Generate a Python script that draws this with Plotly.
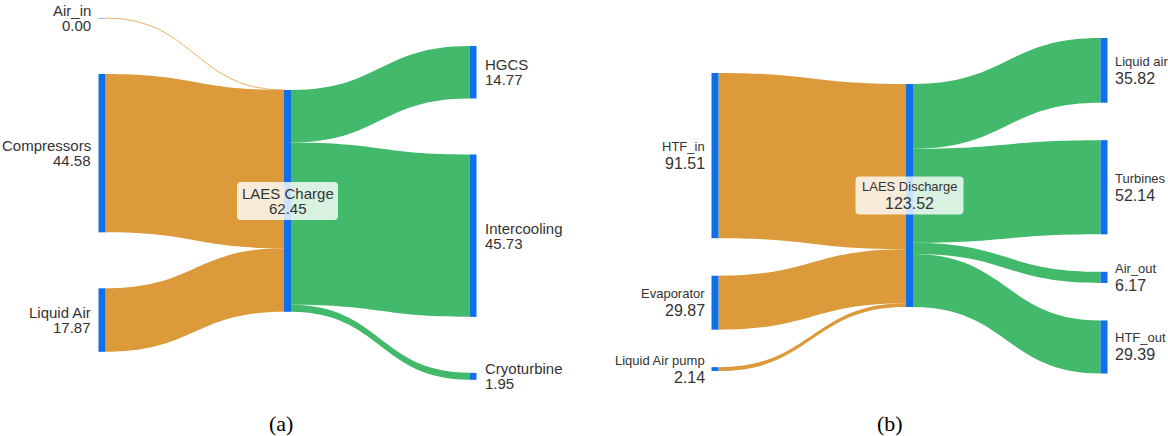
import plotly.graph_objects as go

FIG_W, FIG_H = 1168, 436

# ---- panel (a): LAES charge ----
a_sources = ["Air_in", "Compressors", "Liquid Air"]
a_source_values = [0.001, 44.58, 17.87]
a_hub = "LAES Charge"
a_sinks = ["HGCS", "Intercooling", "Cryoturbine"]
a_sink_values = [14.77, 45.73, 1.95]

# ---- panel (b): LAES discharge ----
b_sources = ["HTF_in", "Evaporator", "Liquid Air pump"]
b_source_values = [91.51, 29.87, 2.14]
b_hub = "LAES Discharge"
b_sinks = ["Liquid air", "Turbines", "Air_out", "HTF_out"]
b_sink_values = [35.82, 52.14, 6.17, 29.39]

panel_tags = ["(a)", "(b)"]

ORANGE = "rgb(221,154,58)"
ORANGE_FAINT = "rgba(221,154,58,0.45)"
GREEN = "rgb(67,185,108)"
GREEN_FAINT = "rgba(67,185,108,0.45)"
BLUE = "rgb(16,112,234)"
TEXT = "#333333"
FONT = "Liberation Sans, Arial, sans-serif"

fig = go.Figure()
annotations = []
shapes = []


def px_x(x):
    return x / FIG_W


def px_y(y):
    return 1 - y / FIG_H


def rounded_rect(cx, cy, w, h, r):
    x0, x1 = cx - w / 2, cx + w / 2
    y0, y1 = cy - h / 2, cy + h / 2
    pts = [
        f"M {px_x(x0 + r)} {px_y(y0)}",
        f"L {px_x(x1 - r)} {px_y(y0)}",
        f"Q {px_x(x1)} {px_y(y0)} {px_x(x1)} {px_y(y0 + r)}",
        f"L {px_x(x1)} {px_y(y1 - r)}",
        f"Q {px_x(x1)} {px_y(y1)} {px_x(x1 - r)} {px_y(y1)}",
        f"L {px_x(x0 + r)} {px_y(y1)}",
        f"Q {px_x(x0)} {px_y(y1)} {px_x(x0)} {px_y(y1 - r)}",
        f"L {px_x(x0)} {px_y(y0 + r)}",
        f"Q {px_x(x0)} {px_y(y0)} {px_x(x0 + r)} {px_y(y0)}",
        "Z",
    ]
    return " ".join(pts)


def add_panel(sources, src_vals, hub, sinks, sink_vals, dom_x, dom_y, pad,
              col_tops, gap, thick, name_size, value_size, name_dy, value_dy,
              label_gap, box_w, box_h):
    x0, x1 = dom_x
    y0, y1 = dom_y
    W, H = x1 - x0, y1 - y0
    hub_val = sum(src_vals)
    columns = [list(src_vals), [hub_val], list(sink_vals)]
    # same vertical scale as the sankey layout engine
    ky = min((H - (len(c) - 1) * pad) / sum(c) for c in columns)

    col_x = [thick / 2, W / 2, W - thick / 2]
    centers = []
    for ci, col in enumerate(columns):
        top = col_tops[ci]
        cs = []
        for v in col:
            h = v * ky
            cs.append(top + h / 2)
            top += h + gap
        centers.append(cs)

    labels = list(sources) + [hub] + list(sinks)
    node_x = [col_x[0] / W] * len(sources) + [col_x[1] / W] + [col_x[2] / W] * len(sinks)
    node_y = [c / H for c in centers[0] + centers[1] + centers[2]]

    # hairline links (under one pixel wide) are drawn in a lighter tint
    def tint(v, solid, faint):
        return faint if v * ky < 1 else solid

    hub_i = len(sources)
    src_idx, tgt_idx, vals, colors = [], [], [], []
    for i, v in enumerate(src_vals):
        src_idx.append(i); tgt_idx.append(hub_i); vals.append(v)
        colors.append(tint(v, ORANGE, ORANGE_FAINT))
    for j, v in enumerate(sink_vals):
        src_idx.append(hub_i); tgt_idx.append(hub_i + 1 + j); vals.append(v)
        colors.append(tint(v, GREEN, GREEN_FAINT))

    fig.add_trace(go.Sankey(
        domain=dict(x=[px_x(x0), px_x(x1)], y=[px_y(y1), px_y(y0)]),
        arrangement="fixed",
        node=dict(label=[""] * len(labels), x=node_x, y=node_y, pad=pad,
                  thickness=thick, color=BLUE, line=dict(width=0),
                  customdata=labels, hovertemplate="%{customdata}: %{value:.2f}<extra></extra>"),
        link=dict(source=src_idx, target=tgt_idx, value=vals, color=colors,
                  line=dict(width=0)),
        valueformat=".2f",
    ))

    def label(name, value, xp, yp, anchor, shift):
        annotations.append(dict(x=px_x(xp), y=px_y(yp), xref="paper", yref="paper",
                                text=name, showarrow=False, xanchor=anchor, yanchor="middle",
                                xshift=shift, yshift=name_dy,
                                font=dict(family=FONT, size=name_size, color=TEXT)))
        annotations.append(dict(x=px_x(xp), y=px_y(yp), xref="paper", yref="paper",
                                text=f"{value:.2f}", showarrow=False, xanchor=anchor, yanchor="middle",
                                xshift=shift, yshift=value_dy,
                                font=dict(family=FONT, size=value_size, color=TEXT)))

    for name, v, cy in zip(sources, src_vals, centers[0]):
        label(name, v, x0, y0 + cy, "right", -label_gap)
    for name, v, cy in zip(sinks, sink_vals, centers[2]):
        label(name, v, x1, y0 + cy, "left", label_gap)

    hx, hy = x0 + W / 2, y0 + centers[1][0]
    shapes.append(dict(type="path", xref="paper", yref="paper",
                       path=rounded_rect(hx, hy, box_w, box_h, 4),
                       fillcolor="rgba(255,255,255,0.8)", line=dict(width=0), layer="above"))
    label(hub, hub_val, hx, hy, "center", 0)


add_panel(a_sources, a_source_values, a_hub, a_sinks, a_sink_values,
          dom_x=(98.5, 476.5), dom_y=(17, 378), pad=69.6,
          col_tops=(1, 73, 29), gap=56, thick=7,
          name_size=15, value_size=15, name_dy=7.5, value_dy=-7.5,
          label_gap=6, box_w=101, box_h=38)
add_panel(b_sources, b_source_values, b_hub, b_sinks, b_sink_values,
          dom_x=(711.5, 1107.5), dom_y=(38, 372), pad=37,
          col_tops=(35, 46, 0), gap=37.5, thick=7,
          name_size=13, value_size=16, name_dy=9, value_dy=-8,
          label_gap=5, box_w=108, box_h=38)

for tag, cx in zip(panel_tags, [281, 890]):
    annotations.append(dict(x=px_x(cx), y=px_y(423), xref="paper", yref="paper",
                            text=tag, showarrow=False, xanchor="center", yanchor="middle",
                            font=dict(family="Liberation Serif, Times New Roman, serif",
                                      size=22, color="#000000")))

fig.update_layout(
    width=FIG_W, height=FIG_H,
    margin=dict(l=0, r=0, t=0, b=0),
    paper_bgcolor="white", plot_bgcolor="white",
    annotations=annotations, shapes=shapes,
    showlegend=False,
)

fig.write_html("out.html")
